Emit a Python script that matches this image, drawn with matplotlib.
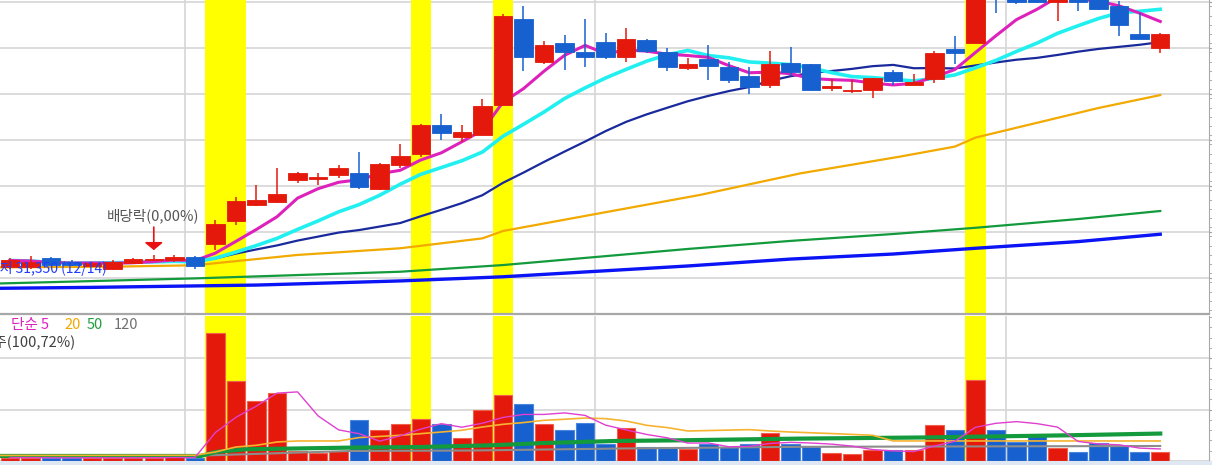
import numpy as np
import pandas as pd
import matplotlib
matplotlib.use('Agg')
import matplotlib.pyplot as plt
import matplotlib.ticker as ticker

plt.rcParams['font.family'] = ['Noto Sans CJK KR', 'DejaVu Sans']

# daily candles (KRW)
opens = [31450, 31450, 31850, 31700, 31500, 31400, 31650, 31750, 31750, 31900,
         32450, 33450, 34150, 34300, 35250, 35300, 35450, 35550, 34850, 35900,
         36400, 37650, 37100, 37200, 38500, 42250, 40400, 41200, 40800, 41250,
         40600, 41350, 40800, 40100, 40500, 40150, 39750, 39400, 40350, 40300,
         39250, 39100, 39150, 39950, 39400, 39650, 40950, 41200, 43950, 43750,
         43300, 43000, 43300, 43200, 42800, 41600, 41000]
highs = [31850, 31950, 31900, 31750, 31700, 31750, 31850, 32000, 32000, 31950,
         33500, 34500, 35050, 35750, 35600, 35550, 35900, 36450, 36000, 36800,
         37700, 38100, 37650, 38750, 42450, 42800, 41300, 41550, 42250, 41650,
         41850, 41400, 41000, 40550, 41100, 40400, 40150, 40850, 41050, 40300,
         39650, 39600, 39700, 40050, 39850, 40850, 41500, 43450, 44100, 43900,
         43450, 43500, 43400, 43300, 43050, 42500, 41650]
lows = [31400, 31400, 31500, 31500, 31450, 31350, 31600, 31750, 31700, 31400,
        32200, 33300, 34100, 34250, 35100, 35050, 35350, 34850, 34800, 35750,
        36250, 37000, 36900, 37200, 38500, 40000, 40300, 40050, 40150, 40500,
        40400, 40750, 40000, 40050, 39600, 39450, 39000, 39250, 39750, 39150,
        39100, 39050, 38800, 39400, 39400, 39450, 40300, 41200, 42500, 42900,
        42950, 42150, 42600, 42650, 41500, 41400, 40750]
closes = [31750, 31700, 31550, 31550, 31650, 31700, 31800, 31800, 31900, 31500,
          33350, 34350, 34400, 34650, 35550, 35400, 35750, 34950, 35950, 36300,
          37650, 37300, 37350, 38450, 42400, 40600, 41100, 40800, 40600, 40600,
          41400, 40850, 40150, 40300, 40200, 39600, 39300, 40300, 39950, 39150,
          39350, 39150, 39700, 39550, 39500, 40750, 40750, 43400, 43200, 43000,
          43000, 43400, 43000, 42700, 42000, 41400, 41600]
# volume, thousand shares
volumes = [33, 33, 29, 29, 34, 31, 34, 33, 35, 34,
           1249, 775, 581, 662, 94, 82, 94, 396, 299, 357,
           406, 357, 224, 493, 639, 552, 357, 299, 370, 165,
           321, 136, 136, 114, 169, 136, 162, 272, 169, 136,
           82, 65, 104, 104, 104, 347, 299, 785, 299, 185,
           250, 130, 88, 175, 146, 88, 88]

# long price averages (candle index, price)
ma_orange_idx = [-0.49, 5, 9, 14, 19, 23, 24, 28.7, 33.6, 38.5, 43.3, 46, 47, 53, 56]
ma_orange = [31450, 31480, 31540, 31990, 32280, 32710, 33030, 33800, 34600, 35540,
             36260, 36700, 37090, 38380, 38940]
ma_green_idx = [-0.49, 3, 9, 19, 24, 28, 33, 38, 43, 47, 52, 56]
ma_green = [30750, 30830, 30970, 31260, 31550, 31860, 32250, 32600, 32900, 33170, 33550, 33900]
ma_blue_idx = [-0.49, 4, 12, 19, 24, 28, 33, 38, 43, 47, 52, 56]
ma_blue = [30540, 30580, 30680, 30860, 31040, 31250, 31510, 31810, 32030, 32280, 32570, 32890]

# long volume averages (candle index, thousand shares)
vma20_idx = [-0.49, 9, 10, 11, 12, 13, 14, 16, 17, 19, 21, 22, 23, 24, 25, 26, 27, 28,
             29, 30, 31, 32, 33, 36, 37, 38, 40, 42, 43, 56]
vma20 = [54, 56, 88, 136, 153, 185, 195, 195, 228, 250, 282, 299, 331, 357, 374, 396, 406, 418,
         412, 389, 347, 325, 292, 305, 292, 282, 267, 250, 195, 195]
vma50_idx = [-0.49, 9.3, 10, 11.5, 16.5, 20, 23.5, 26, 29.5, 32.5, 38.5, 44.5, 51.5, 56]
vma50 = [49, 49, 88, 114, 130, 136, 153, 175, 195, 201, 218, 229, 250, 267]
vma120_idx = [-0.49, 9.5, 16.5, 22.5, 29.5, 38.5, 56]
vma120 = [54, 54, 97, 102, 121, 138, 146]

price_grid = [31000, 33000, 35000, 37000, 39000, 41000, 43000]
highlight_days = [10, 11, 20, 24, 47]
month_lines = [8.5, 28.5, 48.5]

RED = '#e5190b'
BLUE = '#1760cf'

x = np.arange(len(closes))
o = np.array(opens)
c = np.array(closes)
up = c >= o
colors = [RED if u else BLUE for u in up]
edge_v = ['#f0604f' if u else '#4a86dc' for u in up]

s = pd.Series(closes, dtype=float)
ma5 = s.rolling(5, min_periods=1).mean()
ma10 = s.rolling(10, min_periods=1).mean()
ma20 = s.rolling(20, min_periods=1).mean()
vma5 = pd.Series(volumes, dtype=float).rolling(5, min_periods=1).mean()

W, H = 1212, 465
fig = plt.figure(figsize=(W / 100, H / 100), dpi=100)
ax = fig.add_axes([0, 1 - 314 / H, 1209 / W, 314 / H])
axv = fig.add_axes([0, 4 / H, 1209 / W, 145 / H])

xmin, xmax = -10 / 20.54, 1199 / 20.54
for a in (ax, axv):
    a.set_xlim(xmin, xmax)
    a.set_axisbelow(True)
    a.xaxis.set_major_locator(ticker.FixedLocator(month_lines))
    a.tick_params(axis='x', length=0, labelbottom=False)
    a.yaxis.tick_right()
    a.tick_params(axis='y', which='both', direction='out', length=2.5,
                  color='#a0a0a0', labelright=False)
    a.grid(True, which='major', color='#d6d6d6', lw=1.2)
    for sp in ('left', 'top'):
        a.spines[sp].set_visible(False)
    a.spines['right'].set_color('#a8a8a8')
    a.spines['bottom'].set_color('#a8a8a8')
    for d in highlight_days:
        a.axvspan(d - 0.5, d + 0.5, color='#ffff00', lw=0, zorder=1)

# price panel
ax.set_ylim(29422, 43074)
ax.yaxis.set_major_locator(ticker.FixedLocator(price_grid))
ax.yaxis.set_minor_locator(ticker.MultipleLocator(400))
ax.spines['bottom'].set_linewidth(1.6)

ax.plot(ma_blue_idx, ma_blue, color='#0a14f5', lw=2.4, zorder=2)
ax.plot(ma_green_idx, ma_green, color='#129a3c', lw=1.6, zorder=2)
ax.plot(ma_orange_idx, ma_orange, color='#f2a900', lw=1.6, zorder=2)
ax.plot(x, ma20, color='#1a2a9c', lw=1.6, zorder=2.2)
ax.plot(x, ma10, color='#22f0f0', lw=2.6, zorder=2.3)
ax.plot(x, ma5, color='#dd22bb', lw=2.2, zorder=2.4)

bottoms = np.minimum(o, c)
heights = np.maximum(np.abs(c - o), 30)
ax.vlines(x, lows, highs, colors=colors, lw=1.1, zorder=3.5)
ax.bar(x, heights, bottom=bottoms, width=0.9, color=colors, edgecolor=colors,
       lw=0.6, zorder=4)

ax.text(6.95, 33700, '배당락(0,00%)', ha='center', va='center', fontsize=10.5,
        color='#555555', zorder=6)
ax.annotate('', xy=(7, 32200), xytext=(7, 33200), zorder=6,
            arrowprops=dict(arrowstyle='-|>,head_length=0.45,head_width=0.55',
                            color='#e81010', lw=1.2, mutation_scale=10,
                            shrinkA=0, shrinkB=0))
ax.text(4.72, 31400, f'최저 {min(lows):,} (12/14)', ha='right', va='center',
        fontsize=10, color='#1f3cff', zorder=6)

# volume panel
axv.set_ylim(0, 145 * 9.728)
axv.yaxis.set_major_locator(ticker.MultipleLocator(500))
axv.yaxis.set_minor_locator(ticker.MultipleLocator(100))
axv.bar(x, volumes, width=0.9, color=colors, edgecolor=edge_v, lw=0.8, zorder=2)
axv.plot(vma120_idx, vma120, color='#8c8c8c', lw=1.5, zorder=3)
axv.plot(vma50_idx, vma50, color='#129a3c', lw=3, zorder=3.1)
axv.plot(vma20_idx, vma20, color='#f5b330', lw=1.2, zorder=3.2)
axv.plot(x, vma5, color='#e040d0', lw=1.0, zorder=3.3)


def fpos(px, py):
    return px / W, 1 - py / H


for label, col, px in [('단순 5', '#e020c0', 11), ('20', '#f0a800', 64),
                       ('50', '#20a040', 87), ('120', '#707070', 114)]:
    fig.text(*fpos(px, 325), label, color=col, fontsize=10.5, va='center', ha='left')
fig.text(*fpos(75, 342), '거래량 주(100,72%)', color='#404040', fontsize=10.5,
         va='center', ha='right')

fig.add_artist(plt.Rectangle((0, 0), 1, 4 / H, transform=fig.transFigure,
                             color='#dfe8f2', lw=0))

fig.savefig('out.png', dpi=100)
